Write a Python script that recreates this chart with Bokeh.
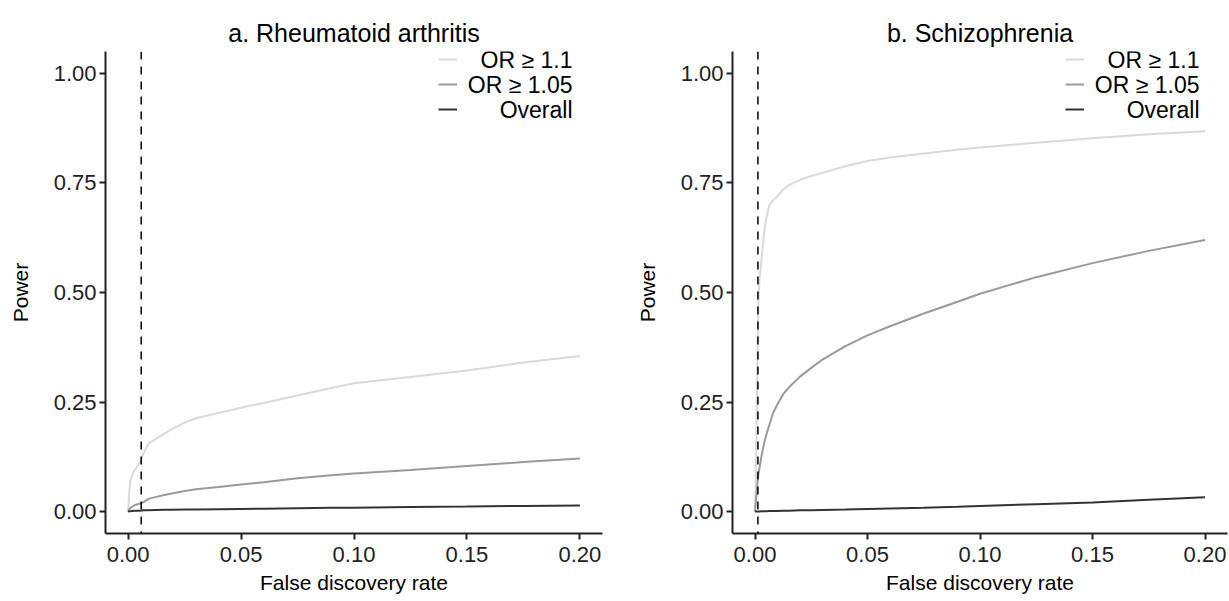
from bokeh.plotting import figure
from bokeh.layouts import row
from bokeh.models import Span, Legend, LegendItem, FixedTicker, Label
from bokeh.embed import file_html
from bokeh.resources import INLINE

# ---------------- data ----------------
panel_titles = ["a. Rheumatoid arthritis", "b. Schizophrenia"]
series_names = ["OR \u2265 1.1", "OR \u2265 1.05", "Overall"]
x_ticks = [0.0, 0.05, 0.10, 0.15, 0.20]
x_tick_labels = ["0.00", "0.05", "0.10", "0.15", "0.20"]
y_ticks = [0.0, 0.25, 0.5, 0.75, 1.0]
y_tick_labels = ["0.00", "0.25", "0.50", "0.75", "1.00"]

ra_fdr = [0, 0.0005, 0.001, 0.002, 0.003, 0.005, 0.007, 0.009, 0.012, 0.016, 0.02,
          0.025, 0.03, 0.04, 0.05, 0.06, 0.075, 0.09, 0.1, 0.125, 0.15, 0.175, 0.2]
ra_or11 = [0, 0.045, 0.07, 0.085, 0.095, 0.11, 0.135, 0.155, 0.165, 0.178, 0.19,
           0.203, 0.213, 0.225, 0.237, 0.248, 0.265, 0.282, 0.293, 0.307, 0.322, 0.34, 0.355]
ra_or105 = [0, 0.005, 0.008, 0.012, 0.015, 0.018, 0.022, 0.029, 0.033, 0.038, 0.042,
            0.047, 0.051, 0.056, 0.062, 0.067, 0.076, 0.083, 0.087, 0.095, 0.104, 0.113, 0.121]
ra_overall = [0, 0.0005, 0.001, 0.0015, 0.002, 0.002, 0.003, 0.003, 0.0035, 0.004, 0.004,
              0.0045, 0.005, 0.0055, 0.006, 0.0065, 0.0075, 0.0085, 0.009, 0.0105, 0.0115, 0.013, 0.014]
ra_threshold = 0.0058

scz_fdr = [0, 0.0005, 0.001, 0.0015, 0.002, 0.003, 0.004, 0.005, 0.0065, 0.008, 0.01,
           0.0125, 0.015, 0.02, 0.025, 0.03, 0.04, 0.05, 0.06, 0.075, 0.09, 0.1,
           0.125, 0.15, 0.175, 0.2]
scz_or11 = [0, 0.12, 0.33, 0.48, 0.53, 0.58, 0.635, 0.67, 0.70, 0.71, 0.72,
            0.735, 0.745, 0.757, 0.766, 0.773, 0.788, 0.80, 0.808, 0.817, 0.826, 0.831,
            0.842, 0.852, 0.861, 0.868]
scz_or105 = [0, 0.03, 0.06, 0.085, 0.10, 0.13, 0.155, 0.175, 0.20, 0.225, 0.245,
             0.268, 0.283, 0.308, 0.328, 0.347, 0.377, 0.402, 0.423, 0.452, 0.479, 0.497,
             0.535, 0.567, 0.595, 0.62]
scz_overall = [0, 0.0, 0.0002, 0.0003, 0.0004, 0.0006, 0.0008, 0.001, 0.0012, 0.0014, 0.0016,
               0.0019, 0.0022, 0.0028, 0.0033, 0.0038, 0.0048, 0.006, 0.0072, 0.009, 0.011, 0.013,
               0.017, 0.021, 0.027, 0.033]
scz_threshold = 0.0013

colors = ["#d9d9d9", "#9a9a9a", "#333333"]
FONT = "Liberation Sans"


def make_panel(title, fdr, series, threshold, width, mb_left, mb_right):
    p = figure(width=width, height=601, x_range=(-0.01, 0.21), y_range=(-0.05, 1.05),
               output_backend="svg", toolbar_location=None,
               min_border_left=mb_left, min_border_right=mb_right,
               min_border_top=51, min_border_bottom=68)
    p.title.text = title
    p.title.align = "center"
    p.title.text_font = FONT
    p.title.text_font_size = "25px"
    p.title.text_font_style = "normal"
    p.title.text_color = "#000000"
    p.outline_line_color = None
    p.xgrid.visible = False
    p.ygrid.visible = False

    for ax in (p.xaxis[0], p.yaxis[0]):
        ax.axis_line_width = 2
        ax.axis_line_color = "#222222"
        ax.major_tick_line_width = 2
        ax.major_tick_line_color = "#222222"
        ax.major_tick_out = 6
        ax.major_tick_in = 0
        ax.minor_tick_line_color = None
        ax.major_label_text_font = FONT
        ax.major_label_text_font_size = "22px"
        ax.major_label_text_color = "#222222"
        ax.axis_label_text_font = FONT
        ax.axis_label_text_font_size = "21px"
        ax.axis_label_text_font_style = "normal"
        ax.axis_label_text_color = "#000000"

    p.xaxis.ticker = FixedTicker(ticks=x_ticks)
    p.xaxis.major_label_overrides = dict(zip(x_ticks, x_tick_labels))
    p.xaxis.major_label_standoff = 7
    p.xaxis.axis_label = "False discovery rate"
    p.xaxis.axis_label_standoff = 6
    p.yaxis.ticker = FixedTicker(ticks=y_ticks)
    p.yaxis.major_label_standoff = 3
    p.yaxis.major_label_overrides = dict(zip(y_ticks, y_tick_labels))
    p.yaxis.axis_label = "Power"
    p.yaxis.axis_label_standoff = 19

    items = []
    for name, ys, c in zip(series_names, series, colors):
        r = p.line(fdr, ys, line_color=c, line_width=2)
        items.append(LegendItem(label=" ", renderers=[r]))

    p.add_layout(Span(location=threshold, dimension="height", line_color="#000000",
                      line_width=1.5, line_dash="8 7"))

    # legend keys (glyphs), with right-aligned legend texts beside them
    leg = Legend(items=items, location=(333, 412), orientation="vertical",
                 glyph_width=19, glyph_height=24, label_height=24, spacing=1,
                 padding=0, margin=0, label_standoff=0, label_width=0,
                 label_text_font=FONT, label_text_font_size="10px",
                 background_fill_alpha=0, border_line_alpha=0)
    p.add_layout(leg)
    for i, name in enumerate(series_names):
        p.add_layout(Label(x=467, y=474 - 25 * i, x_units="screen", y_units="screen",
                           text=name, text_align="right", text_baseline="middle",
                           text_font=FONT, text_font_size="23px", text_color="#000000"))
    return p


p1 = make_panel(panel_titles[0], ra_fdr, [ra_or11, ra_or105, ra_overall], ra_threshold,
                620, 105, 18)
p2 = make_panel(panel_titles[1], scz_fdr, [scz_or11, scz_or105, scz_overall], scz_threshold,
                609, 112, 2)

layout = row(p1, p2)
open("out.html", "w").write(file_html(layout, INLINE))
